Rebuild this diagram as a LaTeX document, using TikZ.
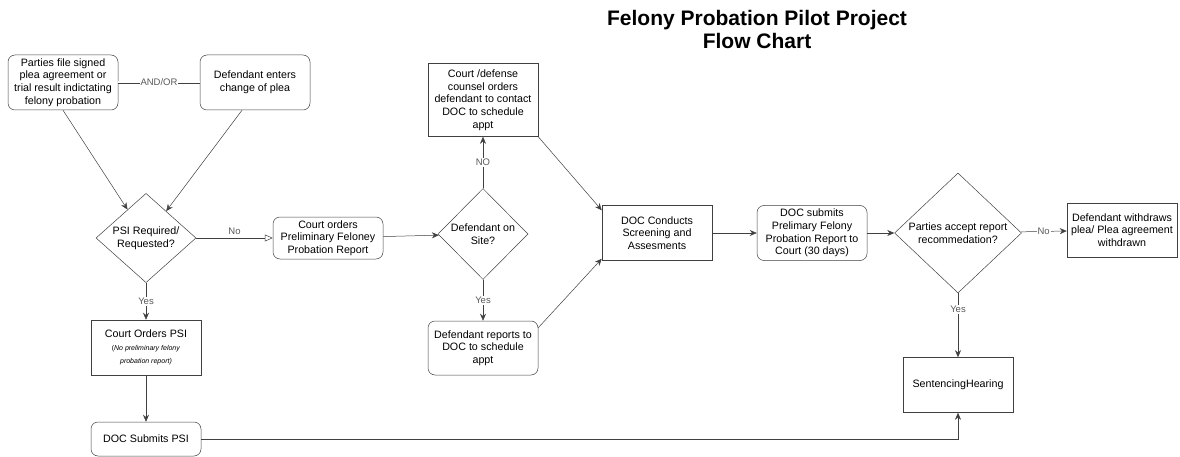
\documentclass[tikz,border=0pt]{standalone}
\usepackage{fontspec}
\setmainfont{Liberation Sans}
\usetikzlibrary{shapes.geometric,arrows.meta}
\tikzset{
  rbox/.style={draw=black!75, rounded corners=7pt, align=center, minimum width=110pt, inner sep=2pt},
  sbox/.style={draw=black!75, align=center, minimum width=110pt, inner sep=2pt},
  dbox/.style={draw=black!75, diamond, align=center, inner sep=0pt},
  arr/.style={draw=black!75, -{Stealth[length=7pt,width=6pt]}},
  lbl/.style={fill=white, text=black!65, inner sep=1pt, font=\fontsize{9.5}{11}\selectfont}
}
\begin{document}
\begin{tikzpicture}[x=1pt, y=-1pt, font=\fontsize{10.7}{12.7}\selectfont, line width=0.5pt]
\useasboundingbox (0,0) rectangle (1180,457);
\node[font=\fontsize{21}{23}\selectfont\bfseries, align=center] (title) at (757,29) {Felony Probation Pilot Project\\Flow Chart};

\node[rbox, minimum height=55pt] (parties) at (63,82.5) {Parties file signed\\plea agreement or\\trial result indictating\\felony probation};
\node[rbox, minimum height=55pt] (plea) at (255,82.5) {Defendant enters\\change of plea};
\node[dbox, minimum width=100pt, minimum height=82pt] (psi) at (146,238) {PSI Required/\\Requested?};
\node[sbox, minimum height=55pt] (orderpsi) at (146,347.5) {Court Orders PSI\\{\fontsize{7}{10}\selectfont(\textit{No preliminary felony}}\\{\fontsize{7}{10}\selectfont\itshape probation report)}};
\node[rbox, minimum height=34pt] (submitpsi) at (146,439) {DOC Submits PSI};
\node[rbox, minimum height=42pt] (prelim) at (328,238) {Court orders\\Preliminary Feloney\\Probation Report};
\node[dbox, minimum width=90pt, minimum height=91pt] (onsite) at (483,234) {Defendant on\\Site?};
\node[sbox, minimum height=73pt] (contact) at (483,100) {Court /defense\\counsel orders\\defendant to contact\\DOC to schedule\\appt};
\node[rbox, minimum height=54pt] (reports) at (483,348) {Defendant reports to\\DOC to schedule\\appt};
\node[sbox, minimum height=55pt] (screening) at (657,233) {DOC Conducts\\Screening and\\Assesments};
\node[rbox, minimum height=55pt] (report) at (812,233) {DOC submits\\Prelimary Felony\\Probation Report to\\Court (30 days)};
\node[dbox, minimum width=127pt, minimum height=120pt] (accept) at (958,233) {Parties accept report\\recommedation?};
\node[sbox, minimum height=54pt] (withdraw) at (1122,230) {Defendant withdraws\\plea/ Plea agreement\\withdrawn};
\node[sbox, minimum height=55pt] (hearing) at (958,385) {SentencingHearing};

\draw[draw=black!75, double, double distance=2pt] (parties) -- node[lbl] {AND/OR} (plea);
\draw[arr] (parties.south) -- (psi);
\draw[arr] ([xshift=-13pt]plea.south) -- (psi);
\draw[draw=black!75, -{Triangle[open,length=8pt,width=7pt]}] (psi) -- node[lbl, above=2pt] {No} (prelim);
\draw[arr] (psi) -- node[lbl] {Yes} (orderpsi);
\draw[arr] (orderpsi) -- (submitpsi);
\draw[arr] (submitpsi) -| (hearing);
\draw[arr] (prelim) -- (onsite);
\draw[arr] (onsite) -- node[lbl] {NO} (contact);
\draw[arr] (onsite) -- node[lbl] {Yes} (reports);
\draw[arr] (contact.south east) -- ([yshift=-5pt]screening.north west);
\draw[arr] ([yshift=-7pt]reports.north east) -- ([yshift=2pt]screening.south west);
\draw[arr] (screening) -- (report);
\draw[arr] (report) -- (accept);
\draw[arr] (accept) -- node[lbl] {No} (withdraw);
\draw[arr] (accept) -- node[lbl, pos=0.25] {Yes} (hearing);
\end{tikzpicture}
\end{document}
